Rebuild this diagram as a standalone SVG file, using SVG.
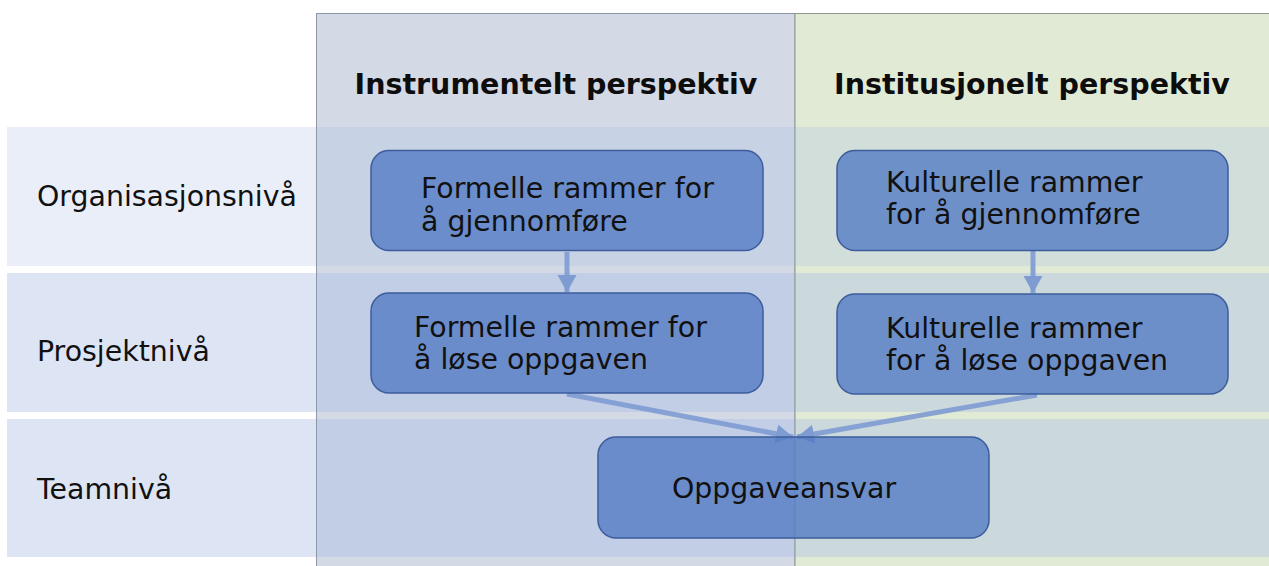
<svg xmlns="http://www.w3.org/2000/svg" width="1269" height="566" viewBox="0 0 1269 566">
  <style>
    .hdr { font-family: "DejaVu Sans", Verdana, sans-serif; font-weight: bold; font-size: 28.5px; fill: #0d0d0d; text-anchor: middle; }
    .lbl { font-family: "DejaVu Sans", Verdana, sans-serif; font-size: 28.4px; fill: #111111; }
    .txt { font-family: "DejaVu Sans", Verdana, sans-serif; font-size: 28.4px; fill: #111111; }
    .node { fill: rgb(82,122,196); fill-opacity: 0.78; stroke: #3d5c9c; stroke-width: 1.5; }
    .row1 { fill: rgb(170,190,230); fill-opacity: 0.26; }
    .row2 { fill: rgb(170,190,230); fill-opacity: 0.4; }
    .conn { stroke: #7e9bd2; stroke-width: 5; fill: none; stroke-opacity: 0.9; }
  </style>
  <defs>
    <marker id="ah" markerUnits="userSpaceOnUse" markerWidth="20" markerHeight="20" refX="17" refY="9.5" orient="auto">
      <path d="M0,0 L17,9.5 L0,19 Z" fill="#7e9bd2"/>
    </marker>
  </defs>
  <rect width="1269" height="566" fill="#ffffff"/>
  <g id="columns">
    <rect x="316.5" y="13.5" width="478.5" height="553" fill="#d3d9e5" stroke="#8e97a8" stroke-width="1"/>
    <rect x="795" y="13.5" width="474" height="553" fill="#e1ead5"/>
    <line x1="795" y1="13.5" x2="1269" y2="13.5" stroke="#8e9890" stroke-width="1"/>
  </g>
  <g id="rows">
    <rect class="row1" x="7" y="127" width="1262" height="139"/>
    <rect class="row2" x="7" y="273" width="1262" height="139"/>
    <rect class="row2" x="7" y="419" width="1262" height="138"/>
  </g>
  <line x1="795" y1="13.5" x2="795" y2="566" stroke="#8c978f" stroke-width="1"/>
  <line x1="316.5" y1="13.5" x2="316.5" y2="566" stroke="#8e97a8" stroke-width="1"/>
  <g id="headers">
    <text class="hdr" x="556" y="94">Instrumentelt perspektiv</text>
    <text class="hdr" x="1032" y="94">Institusjonelt perspektiv</text>
  </g>
  <g id="row-labels">
    <text class="lbl" x="37" y="206">Organisasjonsnivå</text>
    <text class="lbl" x="37" y="361">Prosjektnivå</text>
    <text class="lbl" x="37" y="499">Teamnivå</text>
  </g>
  <g id="connectors">
    <line class="conn" x1="567" y1="252" x2="567" y2="292" marker-end="url(#ah)"/>
    <line class="conn" x1="1033" y1="251" x2="1033" y2="293" marker-end="url(#ah)"/>
    <line class="conn" x1="567" y1="394" x2="793" y2="437" marker-end="url(#ah)"/>
    <line class="conn" x1="1037" y1="395" x2="797" y2="437" marker-end="url(#ah)"/>
  </g>
  <g id="node-formelle-gjennomfore">
    <rect class="node" x="371" y="150.5" width="392" height="100" rx="18"/>
    <text class="txt" x="421" y="198">Formelle rammer for</text>
    <text class="txt" x="421" y="231">å gjennomføre</text>
  </g>
  <g id="node-formelle-lose">
    <rect class="node" x="371" y="293" width="392" height="100" rx="18"/>
    <text class="txt" x="414" y="337">Formelle rammer for</text>
    <text class="txt" x="414" y="369">å løse oppgaven</text>
  </g>
  <g id="node-kulturelle-gjennomfore">
    <rect class="node" x="837" y="150.5" width="391" height="100" rx="18"/>
    <text class="txt" x="886" y="192">Kulturelle rammer</text>
    <text class="txt" x="886" y="224">for å gjennomføre</text>
  </g>
  <g id="node-kulturelle-lose">
    <rect class="node" x="837" y="294" width="391" height="100" rx="18"/>
    <text class="txt" x="886" y="338">Kulturelle rammer</text>
    <text class="txt" x="886" y="370">for å løse oppgaven</text>
  </g>
  <g id="node-oppgaveansvar">
    <rect class="node" x="598" y="437" width="391" height="101" rx="18"/>
    <text class="txt" x="784" y="498" text-anchor="middle">Oppgaveansvar</text>
  </g>
</svg>
